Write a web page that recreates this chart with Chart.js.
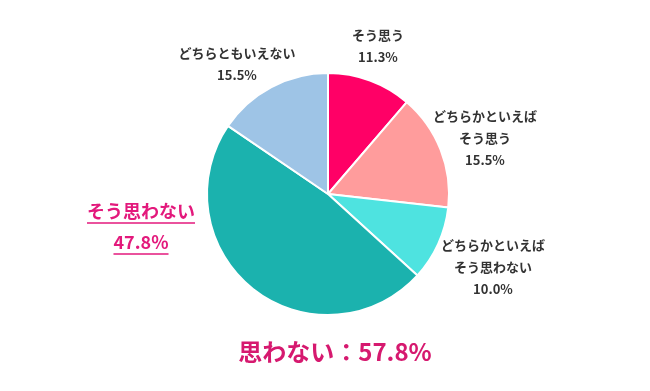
<!DOCTYPE html>
<html>
<head>
<meta charset="utf-8">
<script src="https://cdn.jsdelivr.net/npm/chart.js@4"></script>
<style>
  html, body { margin: 0; padding: 0; background: #fff; }
  #wrap { width: 650px; height: 391px; position: relative; }
</style>
</head>
<body>
<div id="wrap"><canvas id="pie" width="650" height="391"></canvas></div>
<script>
// Data
const categories = ['そう思う', 'どちらかといえばそう思う', 'どちらかといえばそう思わない', 'そう思わない', 'どちらともいえない'];
const values = [11.3, 15.5, 10.0, 47.8, 15.5];
const colors = ['#FF0066', '#FF9C9C', '#4EE3E0', '#1BB2AE', '#9EC4E6'];
const totalLabel = '思わない：57.8%';

// Label layout (text lines per slice, anchor center x / first line y)
const labelLines = [
  ['そう思う'],
  ['どちらかといえば', 'そう思う'],
  ['どちらかといえば', 'そう思わない'],
  ['そう思わない'],
  ['どちらともいえない']
];
const labelPos = [
  { x: 378, y: 35 },
  { x: 485, y: 116 },
  { x: 493, y: 245 },
  { x: 141, y: 211 },
  { x: 237, y: 53 }
];

const FONT = '"Noto Sans CJK JP", "Noto Sans", sans-serif';

const labelPlugin = {
  id: 'labels',
  afterDraw(chart) {
    const ctx = chart.ctx;
    ctx.save();
    ctx.textAlign = 'center';
    ctx.textBaseline = 'middle';
    values.forEach((v, i) => {
      const p = labelPos[i];
      const lines = labelLines[i].concat([v.toFixed(1) + '%']);
      if (i === 3) {
        // highlighted label
        ctx.fillStyle = '#E3197C';
        ctx.strokeStyle = '#E3197C';
        ctx.font = 'bold 18px ' + FONT;
        ctx.lineWidth = 1.5;
        lines.forEach((t, k) => {
          const y = p.y + k * 31;
          ctx.fillText(t, p.x, y);
          const w = ctx.measureText(t).width;
          ctx.beginPath();
          ctx.moveTo(p.x - w / 2, y + 12);
          ctx.lineTo(p.x + w / 2, y + 12);
          ctx.stroke();
        });
      } else {
        ctx.fillStyle = '#333';
        ctx.font = 'bold 13px ' + FONT;
        lines.forEach((t, k) => {
          ctx.fillText(t, p.x, p.y + k * 22);
        });
      }
    });
    ctx.fillStyle = '#D6196F';
    ctx.font = 'bold 24px ' + FONT;
    ctx.fillText(totalLabel, 335, 352);
    ctx.restore();
  }
};

new Chart(document.getElementById('pie'), {
  type: 'pie',
  data: {
    labels: categories,
    datasets: [{
      data: values,
      backgroundColor: colors,
      borderColor: '#ffffff',
      borderWidth: 2,
      hoverOffset: 0
    }]
  },
  options: {
    responsive: false,
    animation: false,
    layout: { padding: { left: 206, right: 200, top: 72, bottom: 75 } },
    plugins: {
      legend: { display: false },
      tooltip: { enabled: false }
    }
  },
  plugins: [labelPlugin]
});
</script>
</body>
</html>
